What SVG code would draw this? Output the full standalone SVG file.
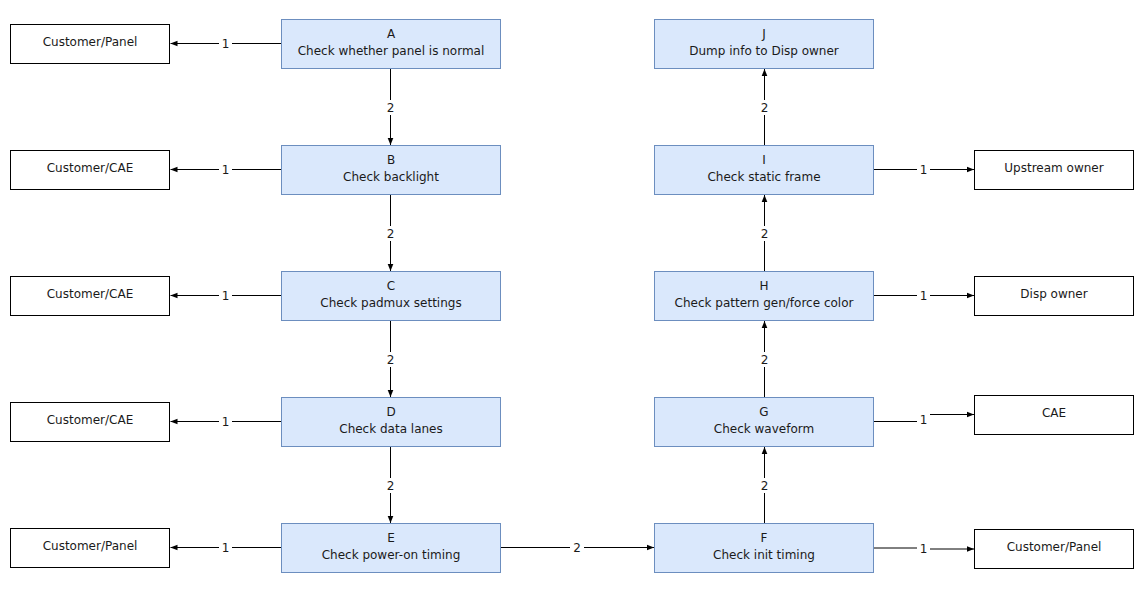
<svg xmlns="http://www.w3.org/2000/svg" width="1144" height="595" viewBox="0 0 1144 595">
<style>
text{font-family:"DejaVu Sans","Liberation Sans",sans-serif;font-size:12px;fill:#1a1a1a;text-anchor:middle}
.n{fill:#dae8fc;stroke:#6c8ebf;stroke-width:1}
.w{fill:#fff;stroke:#000;stroke-width:1}
.e{fill:none;stroke:#000;stroke-width:1;marker-end:url(#ah)}
.lb{fill:#fff;stroke:none}
</style>
<defs>
<marker id="ah" viewBox="0 0 10 10" refX="10" refY="5" markerWidth="7" markerHeight="7" markerUnits="userSpaceOnUse" orient="auto"><path d="M0,1 L10,5 L0,9 Z" fill="#000"/></marker>
</defs>
<rect width="1144" height="595" fill="#fff"/>
<g id="connectors">
<path class="e" d="M281.5,43.5 H170.5"/>
<path class="e" d="M281.5,169.5 H170.5"/>
<path class="e" d="M281.5,295.5 H170.5"/>
<path class="e" d="M281.5,421.5 H170.5"/>
<path class="e" d="M281.5,547.5 H170.5"/>
<path class="e" d="M390.5,68.5 V145"/>
<path class="e" d="M390.5,194.5 V271"/>
<path class="e" d="M390.5,320.5 V397"/>
<path class="e" d="M390.5,446.5 V523"/>
<path class="e" d="M500.5,547.5 H654"/>
<path class="e" d="M764.5,523 V447"/>
<path class="e" d="M764.5,397 V321"/>
<path class="e" d="M764.5,271 V195"/>
<path class="e" d="M764.5,145 V69"/>
<path class="e" d="M873.5,169.5 H974"/>
<path class="e" d="M873.5,295.5 H974"/>
<path class="e" d="M873.5,421.5 H923.5 V414.5 H974"/>
<path class="e" d="M873.5,548 H923.5 V549 H974"/>
<rect class="lb" x="219" y="36" width="13" height="15"/><text x="225.5" y="48">1</text>
<rect class="lb" x="219" y="162" width="13" height="15"/><text x="225.5" y="174">1</text>
<rect class="lb" x="219" y="288" width="13" height="15"/><text x="225.5" y="300">1</text>
<rect class="lb" x="219" y="414" width="13" height="15"/><text x="225.5" y="426">1</text>
<rect class="lb" x="219" y="540" width="13" height="15"/><text x="225.5" y="552">1</text>
<rect class="lb" x="384" y="100" width="13" height="15"/><text x="390.5" y="112">2</text>
<rect class="lb" x="384" y="226" width="13" height="15"/><text x="390.5" y="238">2</text>
<rect class="lb" x="384" y="352" width="13" height="15"/><text x="390.5" y="364">2</text>
<rect class="lb" x="384" y="478" width="13" height="15"/><text x="390.5" y="490">2</text>
<rect class="lb" x="570" y="540" width="14" height="15"/><text x="577" y="552">2</text>
<rect class="lb" x="758" y="478" width="13" height="15"/><text x="764.5" y="490">2</text>
<rect class="lb" x="758" y="352" width="13" height="15"/><text x="764.5" y="364">2</text>
<rect class="lb" x="758" y="226" width="13" height="15"/><text x="764.5" y="238">2</text>
<rect class="lb" x="758" y="100" width="13" height="15"/><text x="764.5" y="112">2</text>
<rect class="lb" x="917" y="162" width="13" height="15"/><text x="923.5" y="174">1</text>
<rect class="lb" x="917" y="288" width="13" height="15"/><text x="923.5" y="300">1</text>
<rect class="lb" x="917" y="412" width="13" height="15"/><text x="923.5" y="424">1</text>
<rect class="lb" x="917" y="541" width="13" height="15"/><text x="923.5" y="553">1</text>
</g>
<g id="nodeA"><rect class="n" x="281.5" y="19.5" width="219" height="49"/><text x="391" y="38">A</text><text x="391" y="54.5">Check whether panel is normal</text></g>
<g id="nodeB"><rect class="n" x="281.5" y="145.5" width="219" height="49"/><text x="391" y="164">B</text><text x="391" y="180.5">Check backlight</text></g>
<g id="nodeC"><rect class="n" x="281.5" y="271.5" width="219" height="49"/><text x="391" y="290">C</text><text x="391" y="306.5">Check padmux settings</text></g>
<g id="nodeD"><rect class="n" x="281.5" y="397.5" width="219" height="49"/><text x="391" y="416">D</text><text x="391" y="432.5">Check data lanes</text></g>
<g id="nodeE"><rect class="n" x="281.5" y="523.5" width="219" height="49"/><text x="391" y="542">E</text><text x="391" y="558.5">Check power-on timing</text></g>
<g id="nodeF"><rect class="n" x="654.5" y="523.5" width="219" height="49"/><text x="764" y="542">F</text><text x="764" y="558.5">Check init timing</text></g>
<g id="nodeG"><rect class="n" x="654.5" y="397.5" width="219" height="49"/><text x="764" y="416">G</text><text x="764" y="432.5">Check waveform</text></g>
<g id="nodeH"><rect class="n" x="654.5" y="271.5" width="219" height="49"/><text x="764" y="290">H</text><text x="764" y="306.5">Check pattern gen/force color</text></g>
<g id="nodeI"><rect class="n" x="654.5" y="145.5" width="219" height="49"/><text x="764" y="164">I</text><text x="764" y="180.5">Check static frame</text></g>
<g id="nodeJ"><rect class="n" x="654.5" y="19.5" width="219" height="49"/><text x="764" y="38">J</text><text x="764" y="54.5">Dump info to Disp owner</text></g>
<g id="outA"><rect class="w" x="10.5" y="24.5" width="159" height="39"/><text x="90" y="46">Customer/Panel</text></g>
<g id="outB"><rect class="w" x="10.5" y="150.5" width="159" height="39"/><text x="90" y="172">Customer/CAE</text></g>
<g id="outC"><rect class="w" x="10.5" y="276.5" width="159" height="39"/><text x="90" y="298">Customer/CAE</text></g>
<g id="outD"><rect class="w" x="10.5" y="402.5" width="159" height="39"/><text x="90" y="424">Customer/CAE</text></g>
<g id="outE"><rect class="w" x="10.5" y="528.5" width="159" height="39"/><text x="90" y="550">Customer/Panel</text></g>
<g id="outI"><rect class="w" x="974.5" y="150.5" width="159" height="39"/><text x="1054" y="172">Upstream owner</text></g>
<g id="outH"><rect class="w" x="974.5" y="276.5" width="159" height="39"/><text x="1054" y="298">Disp owner</text></g>
<g id="outG"><rect class="w" x="974.5" y="395.5" width="159" height="39"/><text x="1054" y="417">CAE</text></g>
<g id="outF"><rect class="w" x="974.5" y="529.5" width="159" height="39"/><text x="1054" y="551">Customer/Panel</text></g>
</svg>
